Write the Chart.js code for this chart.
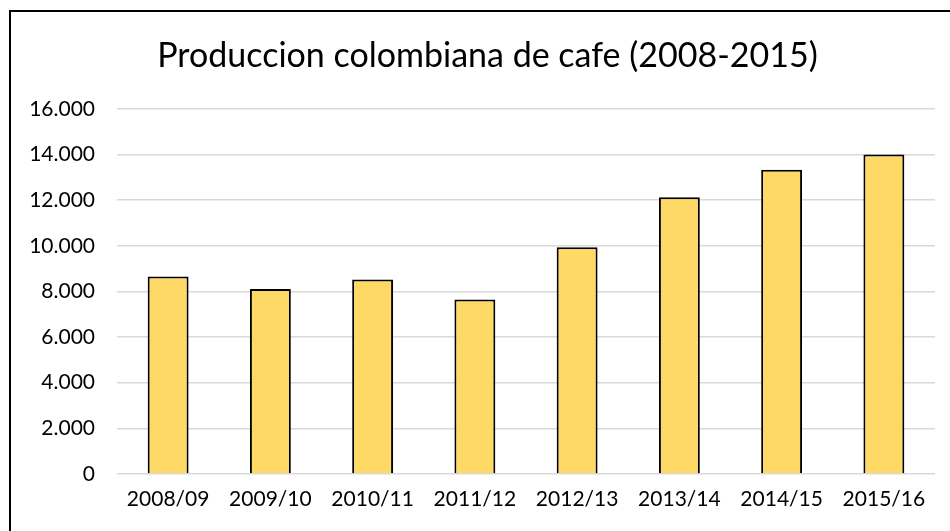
<!DOCTYPE html>
<html>
<head>
<meta charset="utf-8">
<script src="https://cdn.jsdelivr.net/npm/chart.js@4"></script>
<style>
  body { margin: 0; background: #fff; overflow: hidden; }
  #box {
    position: absolute; left: 9px; top: 10px;
    width: 960px; height: 540px;
    border: 2px solid #000;
  }
  #box canvas { display: block; }
</style>
</head>
<body>
<div id="box"><canvas id="myChart" width="960" height="540"></canvas></div>
<script>
const seasons = ["2008/09", "2009/10", "2010/11", "2011/12", "2012/13", "2013/14", "2014/15", "2015/16"];
const production = [8650, 8100, 8520, 7650, 9930, 12120, 13330, 14000];
const yTickValues = [0, 2000, 4000, 6000, 8000, 10000, 12000, 14000, 16000];
const yTickLabels = ["0", "2.000", "4.000", "6.000", "8.000", "10.000", "12.000", "14.000", "16.000"];

const font = "Lato";

// excel centres the title on the whole chart box, not from the canvas edge
const titleShift = {
  id: "titleShift",
  afterLayout(chart) {
    chart.titleBlock.left = 29;
  },
};

new Chart("myChart", {
  type: "bar",
  data: {
    labels: seasons,
    datasets: [
      {
        data: production,
        backgroundColor: "#FFD966",
        borderColor: "#000",
        borderWidth: 2,
        barPercentage: 0.4,
        categoryPercentage: 1,
      },
    ],
  },
  options: {
    responsive: false,
    animation: false,
    layout: { padding: { left: 0, right: 36, top: 0, bottom: 0 } },
    plugins: {
      legend: { display: false },
      tooltip: { enabled: false },
      title: {
        display: true,
        text: "Produccion colombiana de cafe (2008-2015)",
        color: "#000",
        font: { family: font, size: 34, weight: "normal" },
        padding: { top: 24, bottom: 32 },
      },
    },
    scales: {
      x: {
        grid: { display: false, drawTicks: false },
        border: { display: false },
        ticks: { color: "#000", font: { family: font, size: 21 }, padding: 13 },
        afterFit: (s) => { s.height = 78; },
      },
      y: {
        min: 0,
        max: 16000,
        afterBuildTicks: (s) => { s.ticks = yTickValues.map((v) => ({ value: v })); },
        grid: { color: "#d9d9d9", lineWidth: 1.5, drawTicks: false },
        border: { display: false },
        ticks: {
          color: "#000",
          font: { family: font, size: 21 },
          padding: 22,
          callback: (v) => yTickLabels[yTickValues.indexOf(v)],
        },
        afterFit: (s) => { s.width = 106; },
      },
    },
  },
  plugins: [titleShift],
});
</script>
</body>
</html>
